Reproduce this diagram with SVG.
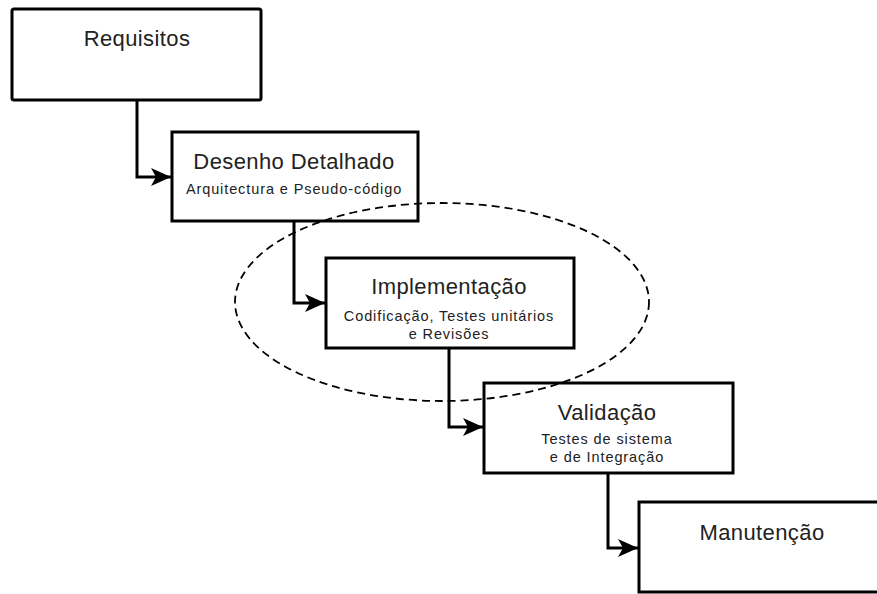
<svg xmlns="http://www.w3.org/2000/svg" width="877" height="594" viewBox="0 0 877 594">
  <style>
    .box { fill: #ffffff; stroke: #000000; stroke-width: 3; }
    .title { font-family: "Liberation Sans", Arial, sans-serif; font-size: 22px; letter-spacing: 0.4px; fill: #222222; text-anchor: middle; }
    .sub { font-family: "Liberation Sans", Arial, sans-serif; font-size: 14.5px; letter-spacing: 0.9px; fill: #222222; text-anchor: middle; }
    .link { fill: none; stroke: #000000; stroke-width: 3; stroke-linejoin: miter; }
    .loop { fill: none; stroke: #000000; stroke-width: 1.8; stroke-dasharray: 8 5; }
  </style>
  <defs>
    <marker id="arrow" markerUnits="userSpaceOnUse" markerWidth="22" markerHeight="22" viewBox="0 0 22 22" refX="20" refY="11" orient="auto">
      <path d="M0,2 L20,11 L0,20 L5,11 Z" fill="#000000"/>
    </marker>
  </defs>

  <rect width="877" height="594" fill="#ffffff"/>

  <!-- phase boxes -->
  <g id="requisitos">
    <rect class="box" x="12" y="9" width="249" height="91" rx="2"/>
    <text class="title" x="137" y="46">Requisitos</text>
  </g>

  <g id="desenho">
    <rect class="box" x="172" y="132" width="246" height="89"/>
    <text class="title" x="294" y="169">Desenho Detalhado</text>
    <text class="sub" x="294" y="194">Arquitectura e Pseudo-código</text>
  </g>

  <g id="implementacao">
    <rect class="box" x="326" y="258" width="248" height="90"/>
    <text class="title" x="449" y="294">Implementação</text>
    <text class="sub" x="449" y="321">Codificação, Testes unitários</text>
    <text class="sub" x="449" y="339">e Revisões</text>
  </g>

  <g id="validacao">
    <rect class="box" x="484" y="383" width="249" height="90"/>
    <text class="title" x="607" y="420">Validação</text>
    <text class="sub" x="607" y="444">Testes de sistema</text>
    <text class="sub" x="607" y="462">e de Integração</text>
  </g>

  <g id="manutencao">
    <rect class="box" x="639" y="502" width="250" height="90"/>
    <text class="title" x="762" y="540">Manutenção</text>
  </g>

  <!-- connectors between phases -->
  <g id="connectors">
    <path class="link" d="M137,100 V177 H171" marker-end="url(#arrow)"/>
    <path class="link" d="M294,221 V303 H325" marker-end="url(#arrow)"/>
    <path class="link" d="M449,348 V427 H483" marker-end="url(#arrow)"/>
    <path class="link" d="M608,473 V548 H638" marker-end="url(#arrow)"/>
  </g>

  <!-- dashed grouping around the implementation phase -->
  <ellipse id="focus" class="loop" cx="442" cy="302" rx="207" ry="99"/>
</svg>
